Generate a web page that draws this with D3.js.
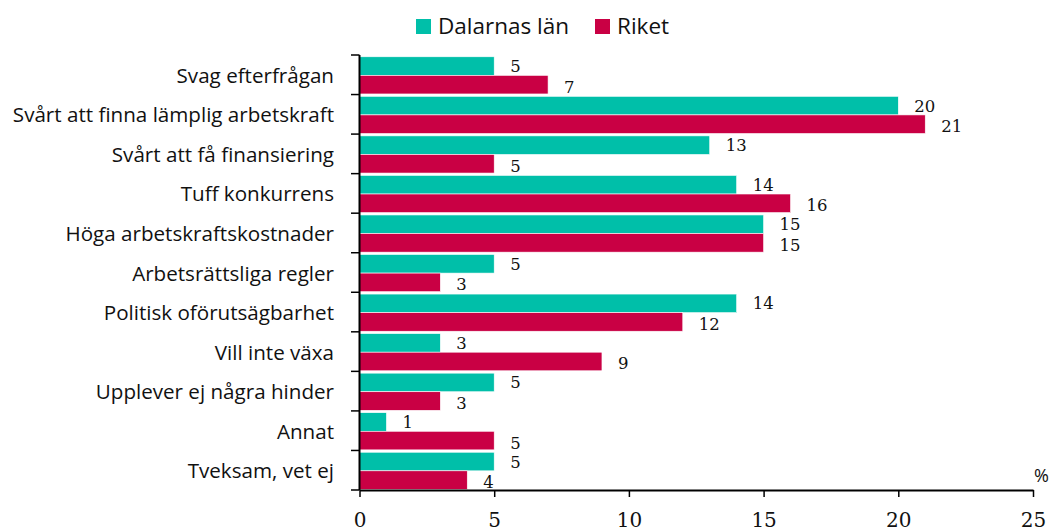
<!DOCTYPE html>
<html><head><meta charset="utf-8">
<script src="https://cdn.jsdelivr.net/npm/d3@7"></script>
<style>body{margin:0;background:#fff}svg{display:block}</style>
</head><body>
<svg id="c" width="1053" height="531"></svg>
<script>
const categories = ["Svag efterfrågan","Svårt att finna lämplig arbetskraft","Svårt att få finansiering","Tuff konkurrens","Höga arbetskraftskostnader","Arbetsrättsliga regler","Politisk oförutsägbarhet","Vill inte växa","Upplever ej några hinder","Annat","Tveksam, vet ej"];
const seriesNames = ["Dalarnas län","Riket"];
const dalarna = [5,20,13,14,15,5,14,3,5,1,5];
const riket = [7,21,5,16,15,3,12,9,3,5,4];
const xTicks = [0,5,10,15,20,25];
const colors = ["#00BFA9","#C90044"];

const svg = d3.select("#c");
const x = d3.scaleLinear().domain([0,25]).range([359.5,1033]);
const y = d3.scaleBand().domain(categories).range([55,490]).paddingInner(0.06).paddingOuter(0.03);
const ys = d3.scaleBand().domain(seriesNames).range([0,y.bandwidth()]);
const data = categories.map((c,i)=>({c, vals:[dalarna[i],riket[i]]}));

const serif = "'DejaVu Serif', serif";
const sans = "'Open Sans', sans-serif";

const g = svg.append("g").selectAll("g").data(data).join("g")
  .attr("transform", d=>`translate(0,${y(d.c)+0.6})`);
g.selectAll("rect").data(d=>d.vals.map((v,k)=>({v,k}))).join("rect")
  .attr("x", x(0)).attr("y", d=>ys(seriesNames[d.k]))
  .attr("width", d=>x(d.v)-x(0)).attr("height", ys.bandwidth())
  .attr("fill", d=>colors[d.k]).attr("stroke","#fff").attr("stroke-width",0.6);
g.selectAll("text").data(d=>d.vals.map((v,k)=>({v,k}))).join("text")
  .attr("x", d=>x(d.v)+16).attr("y", d=>ys(seriesNames[d.k])+ys.bandwidth()/2+(d.k===0?6:8))
  .attr("font-family", serif).attr("font-size",16.5).attr("fill","#111")
  .text(d=>d.v);

// category labels
svg.append("g").selectAll("text").data(categories).join("text")
  .attr("x",334).attr("y",d=>y(d)+y.bandwidth()/2+0.6)
  .attr("dy","0.36em").attr("text-anchor","end")
  .attr("font-family",sans).attr("font-size",20.6).attr("fill","#111")
  .text(d=>d);

// y axis line & separator ticks
const step = y.step();
const bounds = d3.range(categories.length+1).map(i=>55+i*step);
const ax = svg.append("g").attr("stroke","#000");
ax.append("line").attr("x1",x(0)).attr("x2",x(0)).attr("y1",55).attr("y2",490).attr("stroke-width",2);
ax.selectAll("line.t").data(bounds).join("line").attr("class","t")
  .attr("x1",351).attr("x2",x(0)).attr("y1",d=>d).attr("y2",d=>d).attr("stroke-width",1.5);

// x axis
const xa = svg.append("g").attr("transform","translate(0,490)")
  .call(d3.axisBottom(x).tickValues(xTicks).tickSize(7).tickPadding(16).tickSizeOuter(0));
xa.select(".domain").attr("stroke","#000").attr("stroke-width",2);
xa.selectAll(".tick line").attr("stroke","#000").attr("stroke-width",1.5);
xa.selectAll(".tick text").attr("font-family",serif).attr("font-size",20).attr("fill","#111");
svg.append("text").attr("x",1034).attr("y",482).attr("font-family",sans).attr("font-size",18).attr("fill","#111").text("%");

// legend
const legX = [416,595];
const lg = svg.append("g").selectAll("g").data(seriesNames).join("g")
  .attr("transform",(d,i)=>`translate(${legX[i]},19)`);
lg.append("rect").attr("width",15).attr("height",15).attr("fill",(d,i)=>colors[i]);
lg.append("text").attr("x",22).attr("y",14.5).attr("font-family",sans).attr("font-size",22.5).attr("fill","#111").text(d=>d);
</script>
</body></html>
